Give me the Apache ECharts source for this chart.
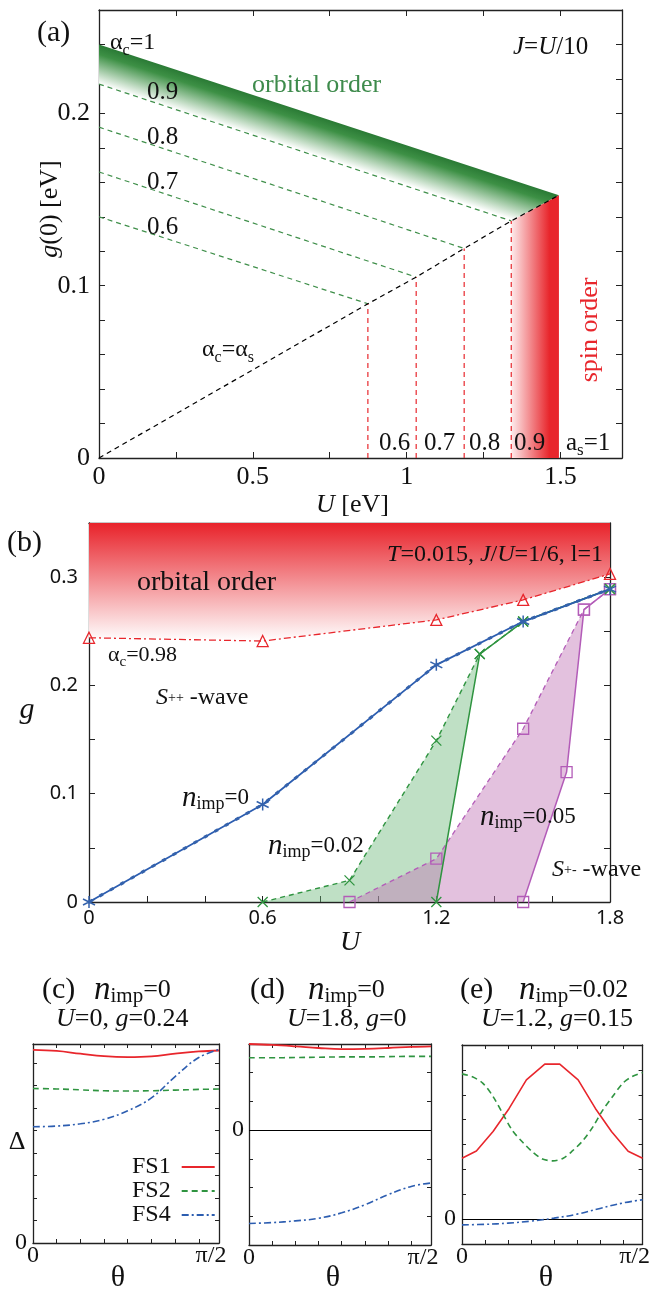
<!DOCTYPE html>
<html><head><meta charset="utf-8">
<script src="https://cdn.jsdelivr.net/npm/echarts@6/dist/echarts.min.js"></script>
<style>html,body{margin:0;padding:0;background:#fff}#c{width:653px;height:1290px}</style>
</head><body><div id="c"></div>
<script>
// ---------------- Panel (a) data ----------------
const A_ALPHA = ['1', '0.9', '0.8', '0.7', '0.6'];
const A_G0 = [0.240, 0.217, 0.192, 0.166, 0.140];          // g(0) at U=0 on each alpha_c line
const A_UX = [1.495, 1.340, 1.187, 1.031, 0.874];          // U where the line meets alpha_c = alpha_s
const A_GX = [0.1525, 0.1376, 0.1216, 0.1050, 0.0895];     // g(0) at that point
const A_XTICKS = [0, 0.5, 1, 1.5];
const A_XLABELS = ['0', '0.5', '1', '1.5'];
const A_YTICKS = [0, 0.1, 0.2];
const A_YLABELS = ['0', '0.1', '0.2'];

// ---------------- Panel (b) data ----------------
const B_RED_U = [0, 0.6, 1.2, 1.5, 1.8];
const B_RED_G = [0.244, 0.241, 0.2605, 0.279, 0.303];
const B_N0_U = [0, 0.6, 1.2, 1.5, 1.8];
const B_N0_G = [0, 0.090, 0.219, 0.259, 0.289];
const B_N02_DASH_U = [0.6, 0.9, 1.2, 1.35, 1.5, 1.8];
const B_N02_DASH_G = [0, 0.020, 0.149, 0.229, 0.259, 0.289];
const B_N02_SOLID_U = [1.2, 1.35, 1.5, 1.8];
const B_N02_SOLID_G = [0, 0.229, 0.259, 0.289];
const B_N05_DASH_U = [0.9, 1.2, 1.5, 1.71, 1.8];
const B_N05_DASH_G = [0, 0.040, 0.160, 0.270, 0.289];
const B_N05_SOLID_U = [1.5, 1.65, 1.71, 1.8];
const B_N05_SOLID_G = [0, 0.120, 0.270, 0.289];
const B_XTICKS = [0, 0.6, 1.2, 1.8];
const B_XLABELS = ['0', '0.6', '1.2', '1.8'];
const B_YTICKS = [0, 0.1, 0.2, 0.3];
const B_YLABELS = ['0', '0.1', '0.2', '0.3'];
const B_YMAX = 0.35;

// ---------------- Panels (c) (d) (e) data ----------------
const THETA = [0, 0.2, 0.4, 0.6, 0.8, 1.0, 1.2, 1.4, 1.5708];
const C_FS1 = [8.59, 8.54, 8.42, 8.31, 8.27, 8.30, 8.42, 8.52, 8.56];
const C_FS2 = [6.87, 6.85, 6.81, 6.77, 6.76, 6.77, 6.80, 6.83, 6.85];
const C_FS4 = [5.17, 5.20, 5.30, 5.50, 5.88, 6.45, 7.40, 8.25, 8.60];
const D_FS1 = [3.00, 2.97, 2.92, 2.86, 2.82, 2.83, 2.86, 2.90, 2.92];
const D_FS2 = [2.52, 2.52, 2.53, 2.54, 2.55, 2.55, 2.56, 2.57, 2.57];
const D_FS4 = [-3.25, -3.22, -3.16, -3.07, -2.88, -2.60, -2.25, -1.96, -1.84];
const E_FS1_T = [0, 0.125, 0.27, 0.41, 0.56, 0.72, 0.85, 1.01, 1.16, 1.30, 1.445, 1.5708];
const E_FS1 = [2.45, 2.74, 3.52, 4.45, 5.60, 6.23, 6.23, 5.60, 4.45, 3.52, 2.73, 2.45];
const E_FS2_T = [0, 0.09, 0.18, 0.27, 0.36, 0.44, 0.53, 0.62, 0.70, 0.79, 0.88, 0.96, 1.05, 1.14, 1.22, 1.31, 1.40, 1.48, 1.5708];
const E_FS2 = [5.84, 5.72, 5.47, 4.93, 4.19, 3.55, 3.08, 2.67, 2.42, 2.34, 2.45, 2.74, 3.15, 3.72, 4.35, 4.93, 5.47, 5.73, 5.89];
const E_FS4 = [-0.23, -0.21, -0.16, -0.08, 0.04, 0.20, 0.43, 0.65, 0.78];
const TH_TICKS = [0, 1.5708];
const TH_LABELS = ['0', '{r|π/2}'];
const Z_TICKS = [0];
const Z_LABELS = ['0'];

// ---------------- styling ----------------
const SERIF = '"Liberation Serif","DejaVu Serif",serif';
const SANS = '"Noto Sans","Open Sans",sans-serif';
const INK = '#111';
const RED = '#e8262c', GREEN = '#2f9440', BLUE = '#2c5db0', PURPLE = '#b35cb8', AGREEN = '#3f8f4a';

function lab(ticks, labels) {
  return v => { for (let i = 0; i < ticks.length; i++) if (Math.abs(v - ticks[i]) < 1e-6) return labels[i]; return ''; };
}
function axisPair(kind, gi, min, max, interval, ticks, labels, font, size, margin, tickLen) {
  const common = {
    type: 'value', gridIndex: gi, min: min, max: max, interval: interval,
    axisLine: {show: true, onZero: false, lineStyle: {color: '#222', width: 1.3}},
    axisTick: {show: true, inside: true, length: tickLen || 5, lineStyle: {color: '#222', width: 1}},
    splitLine: {show: false}
  };
  const main = Object.assign({}, common, {
    position: kind === 'x' ? 'bottom' : 'left',
    axisLabel: {show: true, margin: margin, color: INK, fontFamily: font, fontSize: size,
      formatter: lab(ticks, labels), showMinLabel: true, showMaxLabel: true,
      rich: {r: {fontFamily: font, fontSize: size, color: INK, padding: [0, 16, 0, 0]}}}
  });
  const twin = Object.assign({}, common, {position: kind === 'x' ? 'top' : 'right', axisLabel: {show: false}});
  return [main, twin];
}
function zip(xs, ys) { return xs.map((x, i) => [x, ys[i]]); }
function line(p, pts, color, o) {
  o = o || {};
  return {
    type: 'line', xAxisIndex: 2 * p, yAxisIndex: 2 * p, data: pts, name: o.name,
    symbol: o.symbol || 'none', symbolSize: o.symbolSize || 10, showSymbol: !!o.symbol,
    smooth: o.smooth || false, z: o.z || 5, silent: true,
    lineStyle: {color: color, width: o.width || 1.3, type: o.type || 'solid'},
    itemStyle: {color: o.fill || color, borderColor: color, borderWidth: o.bw || 1.3},
    markLine: o.markLine
  };
}
function poly(p, ptsFn, styleFn, z) {
  return {
    type: 'custom', xAxisIndex: 2 * p, yAxisIndex: 2 * p, z: z || 1, silent: true,
    data: [[0, 0]],
    renderItem: (params, api) => {
      const pts = ptsFn().map(d => api.coord(d));
      return {type: 'polygon', shape: {points: pts}, style: styleFn(pts, api)};
    }
  };
}
function regionPts(du, dg, su, sg) {
  // dashed boundary up to where it meets the solid boundary, then back down the solid one
  const pts = [];
  let j = -1;
  for (let i = 0; i < du.length; i++) {
    pts.push([du[i], dg[i]]);
    const k = su.findIndex((u, m) => m > 0 && Math.abs(u - du[i]) < 1e-9 && Math.abs(sg[m] - dg[i]) < 1e-9);
    if (k > 0) { j = k; break; }
  }
  for (let m = j - 1; m >= 0; m--) pts.push([su[m], sg[m]]);
  return pts;
}

const ASTER = 'path://M0,-6L0,6M-5.2,-3L5.2,3M-5.2,3L5.2,-3';
const CROSS = 'path://M-5,-5L5,5M-5,5L5,-5';
const SQUARE = 'path://M-5,-5L5,-5L5,5L-5,5Z';
const TRI = 'path://M0,-5.5L5.5,4.5L-5.5,4.5Z';
const CLEAR = 'rgba(0,0,0,0)';

// ---------------- axes ----------------
const xAxis = [].concat(
  axisPair('x', 0, 0, 1.7, 0.25, A_XTICKS, A_XLABELS, SERIF, 26, 6, 6),
  axisPair('x', 1, 0, 1.8, 0.2, B_XTICKS, B_XLABELS, SANS, 20, 6, 6),
  axisPair('x', 2, 0, 1.5708, 0.2, TH_TICKS, TH_LABELS, SERIF, 24, 1, 4),
  axisPair('x', 3, 0, 1.5708, 0.2, TH_TICKS, TH_LABELS, SERIF, 24, 1, 4),
  axisPair('x', 4, 0, 1.5708, 0.2, TH_TICKS, TH_LABELS, SERIF, 24, 1, 4)
);
const yAxis = [].concat(
  axisPair('y', 0, 0, 0.26, 0.02, A_YTICKS, A_YLABELS, SERIF, 26, 9, 6),
  axisPair('y', 1, 0, B_YMAX, 0.05, B_YTICKS, B_YLABELS, SANS, 20, 11, 6),
  axisPair('y', 2, 0, 8.85, 1, Z_TICKS, Z_LABELS, SERIF, 24, 6, 4),
  axisPair('y', 3, -4, 3, 1, Z_TICKS, Z_LABELS, SERIF, 24, 5, 4),
  axisPair('y', 4, -1, 7, 1, Z_TICKS, Z_LABELS, SERIF, 24, 6, 4)
);

// ---------------- series ----------------
const series = [];
// (a) orbital-order band between alpha_c=1 and alpha_c=0.9
series.push(poly(0, () => [[0, A_G0[0]], [A_UX[0], A_GX[0]], [A_UX[1], A_GX[1]], [0, A_G0[1]]], (pts) => {
  const a = pts[0], b = pts[1], q = pts[3];
  const dx = b[0] - a[0], dy = b[1] - a[1], L = Math.hypot(dx, dy);
  const nx = -dy / L, ny = dx / L;
  const d = (q[0] - a[0]) * nx + (q[1] - a[1]) * ny;
  return {fill: new echarts.graphic.LinearGradient(a[0], a[1], a[0] + nx * d, a[1] + ny * d,
    [{offset: 0, color: '#2a7a35'}, {offset: 0.25, color: '#3d9045'}, {offset: 1, color: '#ffffff'}], true)};
}, 1));
// (a) spin-order band
series.push(poly(0, () => [[A_UX[1], 0], [A_UX[1], A_GX[1]], [A_UX[0], A_GX[0]], [A_UX[0], 0]], (pts) => ({
  fill: new echarts.graphic.LinearGradient(pts[0][0], 0, pts[3][0], 0,
    [{offset: 0, color: '#fdeced'}, {offset: 0.8, color: '#e8262c'}, {offset: 1, color: '#e8262c'}], true)
}), 1));
for (let i = 1; i < A_ALPHA.length; i++) {
  series.push(line(0, [[0, A_G0[i]], [A_UX[i], A_GX[i]]], AGREEN, {type: [5, 4], width: 1.2}));
  series.push(line(0, [[A_UX[i], 0], [A_UX[i], A_GX[i]]], RED, {type: [5, 4], width: 1.2}));
}
series.push(line(0, [[0, 0]].concat(zip(A_UX, A_GX).reverse()), '#000', {type: [5, 4], width: 1.2}));

// (b) orbital-order shading above alpha_c = 0.98
series.push(poly(1, () => zip(B_RED_U, B_RED_G).concat([[B_RED_U[B_RED_U.length - 1], B_YMAX], [B_RED_U[0], B_YMAX]]), (pts, api) => {
  const y0 = api.coord([0, B_YMAX])[1], y1 = api.coord([0, Math.min.apply(null, B_RED_G)])[1];
  return {fill: new echarts.graphic.LinearGradient(0, y0, 0, y1,
    [{offset: 0, color: '#e8222a'}, {offset: 1, color: '#ffffff'}], true)};
}, 1));
series.push(poly(1, () => regionPts(B_N02_DASH_U, B_N02_DASH_G, B_N02_SOLID_U, B_N02_SOLID_G),
  () => ({fill: 'rgba(102,182,117,0.42)'}), 2));
series.push(poly(1, () => regionPts(B_N05_DASH_U, B_N05_DASH_G, B_N05_SOLID_U, B_N05_SOLID_G),
  () => ({fill: 'rgba(193,117,182,0.45)'}), 3));
series.push(line(1, zip(B_RED_U, B_RED_G), RED, {type: [7, 3, 2, 3], width: 1.3, symbol: TRI, symbolSize: 11, fill: CLEAR, z: 6}));
series.push(line(1, zip(B_N05_DASH_U, B_N05_DASH_G), PURPLE, {type: [5, 4], width: 1.3, symbol: SQUARE, symbolSize: 11, fill: CLEAR, z: 6}));
series.push(line(1, zip(B_N05_SOLID_U, B_N05_SOLID_G), PURPLE, {width: 1.5, symbol: SQUARE, symbolSize: 11, fill: CLEAR, z: 6}));
series.push(line(1, zip(B_N02_DASH_U, B_N02_DASH_G), GREEN, {type: [5, 4], width: 1.4, symbol: CROSS, symbolSize: 10, fill: CLEAR, z: 7}));
series.push(line(1, zip(B_N02_SOLID_U, B_N02_SOLID_G), GREEN, {width: 1.5, symbol: CROSS, symbolSize: 10, fill: CLEAR, z: 7}));
series.push(line(1, zip(B_N0_U, B_N0_G), BLUE, {width: 1.8, z: 8}));
series.push(line(1, zip(B_N0_U, B_N0_G), '#3462ac', {type: [4, 8], width: 3, symbol: ASTER, symbolSize: 12, fill: CLEAR, bw: 1.5, z: 8}));

// (c)
series.push(line(2, zip(THETA, C_FS1), RED, {name: 'FS1', width: 1.8, smooth: 0.4}));
series.push(line(2, zip(THETA, C_FS2), GREEN, {name: 'FS2', width: 1.6, type: [6, 4], smooth: 0.4}));
series.push(line(2, zip(THETA, C_FS4), BLUE, {name: 'FS4', width: 1.6, type: [7, 3, 2, 3], smooth: 0.4}));
// (d)
const ZERO = {silent: true, symbol: 'none', label: {show: false}, data: [{yAxis: 0}], lineStyle: {color: '#000', type: 'solid', width: 1.2}};
series.push(line(3, zip(THETA, D_FS1), RED, {name: 'FS1', width: 1.8, smooth: 0.4, markLine: ZERO}));
series.push(line(3, zip(THETA, D_FS2), GREEN, {name: 'FS2', width: 1.6, type: [6, 4], smooth: 0.4}));
series.push(line(3, zip(THETA, D_FS4), BLUE, {name: 'FS4', width: 1.6, type: [7, 3, 2, 3], smooth: 0.4}));
// (e)
series.push(line(4, zip(E_FS1_T, E_FS1), RED, {name: 'FS1', width: 1.6, markLine: ZERO}));
series.push(line(4, zip(E_FS2_T, E_FS2), GREEN, {name: 'FS2', width: 1.6, type: [6, 4], smooth: 0.3}));
series.push(line(4, zip(THETA, E_FS4), BLUE, {name: 'FS4', width: 1.6, type: [7, 3, 2, 3], smooth: 0.4}));

// ---------------- texts ----------------
function rs(size, color) {
  const L = Math.round(size * 1.3);
  const base = {fontFamily: SERIF, fill: color, color: color, lineHeight: L};
  return {
    n: Object.assign({}, base, {fontSize: size, verticalAlign: 'middle'}),
    g: Object.assign({}, base, {fontSize: size, verticalAlign: 'middle'}),
    i: Object.assign({}, base, {fontSize: size, fontStyle: 'italic', verticalAlign: 'middle'}),
    s: Object.assign({}, base, {fontSize: Math.round(size * 0.66), verticalAlign: 'bottom'}),
    p: Object.assign({}, base, {fontSize: Math.round(size * 0.6), verticalAlign: 'middle'}),
    b: Object.assign({}, base, {fontSize: Math.round(size * 1.25), fontStyle: 'italic', verticalAlign: 'middle'}),
    m: Object.assign({}, base, {fontSize: Math.round(size * 0.8), verticalAlign: 'bottom'})
  };
}
function T(x, y, text, size, o) {
  o = o || {};
  const c = o.color || INK;
  return {type: 'text', x: x, y: y, z: 100, rotation: o.rot || 0, silent: true,
    style: {text: text, rich: rs(size, c), fontFamily: SERIF, fontSize: size, fill: c,
      align: o.align || 'left', textAlign: o.align || 'left', verticalAlign: 'middle', textVerticalAlign: 'middle'}};
}
const texts = [
  // (a)
  T(37, 33, '{n|(a)}', 30),
  T(110, 43, '{g|α}{s|c}{n|=1}', 24),
  T(147, 92, '{n|' + A_ALPHA[1] + '}', 25),
  T(147, 137, '{n|' + A_ALPHA[2] + '}', 25),
  T(147, 182, '{n|' + A_ALPHA[3] + '}', 25),
  T(147, 227, '{n|' + A_ALPHA[4] + '}', 25),
  T(252, 85, '{n|orbital order}', 26, {color: '#3e8b4c'}),
  T(513, 47, '{i|J}{n|=}{i|U}{n|/10}', 25),
  T(202, 350, '{g|α}{s|c}{n|=}{g|α}{s|s}', 24),
  T(590, 330, '{n|spin order}', 26, {color: RED, rot: Math.PI / 2, align: 'center'}),
  T(379, 443, '{n|0.6}', 25), T(424, 443, '{n|0.7}', 25), T(469, 443, '{n|0.8}', 25), T(514, 443, '{n|0.9}', 25),
  T(566, 443, '{n|a}{s|s}{n|=1}', 25),
  T(50, 209, '{i|g}{n|(0) [eV]}', 26, {rot: Math.PI / 2, align: 'center'}),
  T(316, 505, '{i|U}{n| [eV]}', 26),
  // (b)
  T(7, 543, '{n|(b)}', 30),
  T(137, 583, '{n|orbital order}', 28),
  T(603, 555, '{i|T}{n|=0.015, }{i|J}{n|/}{i|U}{n|=1/6, l=1}', 24, {align: 'right'}),
  T(108, 655, '{g|α}{s|c}{n|=0.98}', 22),
  T(156, 698, '{i|S}{p|++}{n| -wave}', 24),
  T(182, 798, '{b|n}{m|imp}{n|=0}', 23),
  T(268, 846, '{b|n}{m|imp}{n|=0.02}', 23),
  T(480, 817, '{b|n}{m|imp}{n|=0.05}', 23),
  T(552, 870, '{i|S}{p|+-}{n| -wave}', 24),
  T(27, 710, '{i|g}', 30, {align: 'center'}),
  T(350, 943, '{i|U}', 28, {align: 'center'}),
  // (c)(d)(e)
  T(42, 990, '{n|(c)}', 30), T(94, 990, '{b|n}{m|imp}{n|=0}', 26), T(56, 1019, '{i|U}{n|=0, }{i|g}{n|=0.24}', 26),
  T(250, 990, '{n|(d)}', 30), T(308, 990, '{b|n}{m|imp}{n|=0}', 26), T(287, 1019, '{i|U}{n|=1.8, }{i|g}{n|=0}', 26),
  T(460, 990, '{n|(e)}', 30), T(519, 990, '{b|n}{m|imp}{n|=0.02}', 26), T(481, 1019, '{i|U}{n|=1.2, }{i|g}{n|=0.15}', 26),
  T(17, 1142, '{n|Δ}', 26, {align: 'center'}),
  T(118, 1278, '{n|θ}', 30, {align: 'center'}),
  T(333, 1278, '{n|θ}', 30, {align: 'center'}),
  T(546, 1278, '{n|θ}', 30, {align: 'center'})
];

const chart = echarts.init(document.getElementById('c'), null, {renderer: 'canvas'});
chart.setOption({
  animation: false,
  backgroundColor: '#fff',
  grid: [
    {left: 99, top: 10, width: 523, height: 448},
    {left: 89, top: 523, width: 521, height: 379},
    {left: 33, top: 1044, width: 186, height: 199},
    {left: 249, top: 1044, width: 182, height: 201},
    {left: 462, top: 1045, width: 181, height: 199}
  ],
  xAxis: xAxis,
  yAxis: yAxis,
  legend: {
    left: 127, top: 1150, orient: 'vertical', align: 'right', itemWidth: 33, itemHeight: 10, itemGap: 0,
    selectedMode: false, data: ['FS1', 'FS2', 'FS4'],
    itemStyle: {opacity: 0},
    lineStyle: {width: 2.2},
    textStyle: {fontFamily: SERIF, fontSize: 24, color: INK, lineHeight: 23, padding: [0, 6, 0, 0]}
  },
  series: series,
  graphic: {elements: texts}
});
</script></body></html>
